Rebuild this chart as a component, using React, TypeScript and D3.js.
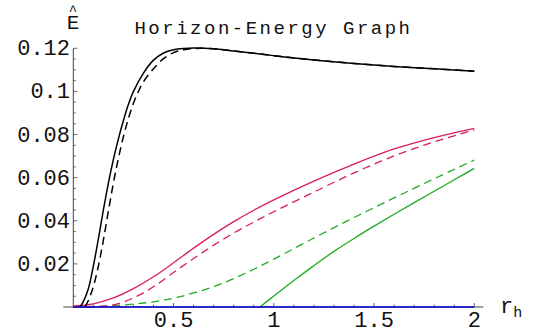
import React, { useEffect, useRef } from 'react';
import * as d3 from 'd3';

// curves (r_h vs E-hat)
const blackSolidR = [0.033, 0.05, 0.075, 0.1, 0.125, 0.15, 0.175, 0.2, 0.225, 0.25, 0.275, 0.3, 0.35, 0.4, 0.45, 0.5, 0.55, 0.6, 0.7, 0.8, 1.0, 1.2, 1.4, 1.6, 1.8, 2.0];
const blackSolidE = [0, 0.0025, 0.0085, 0.019, 0.0315, 0.045, 0.0575, 0.0685, 0.078, 0.0865, 0.094, 0.1, 0.1085, 0.1145, 0.1178, 0.1193, 0.1199, 0.1201, 0.1198, 0.1188, 0.1166, 0.1146, 0.113, 0.1116, 0.1105, 0.1094];

const blackDashR = [0.058, 0.075, 0.1, 0.125, 0.15, 0.175, 0.2, 0.225, 0.25, 0.275, 0.3, 0.325, 0.35, 0.4, 0.45, 0.5, 0.55, 0.6, 0.7, 0.8, 1.0, 1.2, 1.4, 1.6, 1.8, 2.0];
const blackDashE = [0, 0.003, 0.0095, 0.019, 0.031, 0.0445, 0.0575, 0.069, 0.079, 0.0875, 0.0945, 0.1, 0.1045, 0.1105, 0.1152, 0.118, 0.1193, 0.1199, 0.1198, 0.1188, 0.1166, 0.1146, 0.113, 0.1116, 0.1105, 0.1094];

const redSolidR = [0, 0.1, 0.2, 0.3, 0.4, 0.5, 0.6, 0.7, 0.8, 0.9, 1.0, 1.2, 1.4, 1.6, 1.8, 2.0];
const redSolidE = [0.0005, 0.0015, 0.0042, 0.0085, 0.014, 0.0205, 0.0273, 0.0337, 0.0396, 0.0449, 0.0497, 0.0584, 0.0663, 0.0733, 0.0786, 0.0829];

const redDashR = [0, 0.1, 0.2, 0.3, 0.4, 0.5, 0.6, 0.7, 0.8, 0.9, 1.0, 1.2, 1.4, 1.6, 1.8, 2.0];
const redDashE = [0, 0.0002, 0.001, 0.0042, 0.0094, 0.016, 0.0225, 0.0287, 0.0343, 0.0394, 0.0442, 0.0533, 0.0622, 0.0701, 0.0766, 0.0821];

const greenDashR = [0, 0.2, 0.4, 0.5, 0.6, 0.7, 0.8, 0.9, 1.0, 1.2, 1.4, 1.6, 1.8, 2.0];
const greenDashE = [0, 0.0006, 0.0024, 0.0041, 0.0065, 0.0094, 0.0132, 0.0175, 0.0222, 0.032, 0.0415, 0.0506, 0.0595, 0.0682];

const greenSolidR = [0.931, 1.0, 1.1, 1.2, 1.3, 1.4, 1.5, 1.6, 1.7, 1.8, 1.9, 2.0];
const greenSolidE = [0, 0.0051, 0.0123, 0.0192, 0.0258, 0.0318, 0.0375, 0.043, 0.0484, 0.0537, 0.059, 0.0643];

const blueR = [0, 2];
const blueE = [0, 0];

const yTickValues = [0.02, 0.04, 0.06, 0.08, 0.1, 0.12];
const yTickLabels = ['0.02', '0.04', '0.06', '0.08', '0.1', '0.12'];
const xTickValues = [0.5, 1, 1.5, 2];
const xTickLabels = ['0.5', '1', '1.5', '2'];

const titleText = 'Horizon-Energy Graph';

const series = [
  { r: greenSolidR, e: greenSolidE, color: '#1faa1f', dash: null, w: 1.3 },
  { r: greenDashR, e: greenDashE, color: '#1faa1f', dash: '8,5', w: 1.3 },
  { r: redDashR, e: redDashE, color: '#d81f55', dash: '8,5', w: 1.3 },
  { r: redSolidR, e: redSolidE, color: '#d81f55', dash: null, w: 1.3 },
  { r: blackDashR, e: blackDashE, color: '#000000', dash: '8,5', w: 1.5 },
  { r: blackSolidR, e: blackSolidE, color: '#000000', dash: null, w: 1.5 },
  { r: blueR, e: blueE, color: '#0000dd', dash: null, w: 1.5 },
];

function App() {
  const ref = useRef<SVGSVGElement>(null);

  useEffect(() => {
    const svg = d3.select(ref.current);
    svg.selectAll('*').remove();

    const x = d3.scaleLinear().domain([0, 2]).range([73.3, 474.3]);
    const y = d3.scaleLinear().domain([0, 0.12]).range([307, 48.3]);
    const font = '"Courier New", Courier, "Liberation Mono", monospace';
    const axisColor = '#444';

    // x axis
    svg.append('line')
      .attr('x1', x(-0.05)).attr('x2', x(2.045))
      .attr('y1', y(0)).attr('y2', y(0))
      .attr('stroke', axisColor).attr('stroke-width', 1);
    d3.range(1, 21).forEach(i => {
      const v = i / 10;
      const major = i % 5 === 0;
      svg.append('line')
        .attr('x1', x(v)).attr('x2', x(v))
        .attr('y1', y(0)).attr('y2', y(0) - (major ? 4 : 2.5))
        .attr('stroke', axisColor).attr('stroke-width', 0.8);
    });
    xTickValues.forEach((v, i) => {
      svg.append('text')
        .attr('x', x(v)).attr('y', 327)
        .attr('text-anchor', 'middle')
        .attr('font-family', font).attr('font-size', 22)
        .attr('fill', '#111')
        .text(xTickLabels[i]);
    });

    // y axis
    svg.append('line')
      .attr('x1', x(0)).attr('x2', x(0))
      .attr('y1', y(0)).attr('y2', y(0.12))
      .attr('stroke', axisColor).attr('stroke-width', 1);
    d3.range(1, 25).forEach(i => {
      const v = i * 0.005;
      const major = i % 4 === 0;
      svg.append('line')
        .attr('x1', x(0)).attr('x2', x(0) + (major ? 4 : 2.5))
        .attr('y1', y(v)).attr('y2', y(v))
        .attr('stroke', axisColor).attr('stroke-width', 0.8);
    });
    yTickValues.forEach((v, i) => {
      svg.append('text')
        .attr('x', 70).attr('y', y(v))
        .attr('dy', '0.32em')
        .attr('text-anchor', 'end')
        .attr('font-family', font).attr('font-size', 22)
        .attr('fill', '#111')
        .text(yTickLabels[i]);
    });

    // curves
    const line = d3.line<[number, number]>()
      .x(d => x(d[0]))
      .y(d => y(d[1]))
      .curve(d3.curveCatmullRom.alpha(0.5));

    series.forEach(s => {
      const pts = s.r.map((r, i) => [r, s.e[i]] as [number, number]);
      svg.append('path')
        .attr('d', line(pts))
        .attr('fill', 'none')
        .attr('stroke', s.color)
        .attr('stroke-width', s.w)
        .attr('stroke-dasharray', s.dash);
    });

    // title
    svg.append('text')
      .attr('x', 273.5).attr('y', 34)
      .attr('text-anchor', 'middle')
      .attr('font-family', font).attr('font-size', 19)
      .attr('letter-spacing', 2.5)
      .attr('fill', '#111')
      .text(titleText);

    // axis labels: E-hat and r_h
    const el = svg.append('text')
      .attr('text-anchor', 'middle')
      .attr('font-family', font)
      .attr('fill', '#111');
    el.append('tspan').attr('x', 73).attr('y', 15).attr('font-size', 14).text('^');
    el.append('tspan').attr('x', 73).attr('y', 29).attr('font-size', 21).text('E');

    const rl = svg.append('text')
      .attr('x', 500).attr('y', 313)
      .attr('font-family', font).attr('font-size', 22)
      .attr('fill', '#111');
    rl.append('tspan').text('r');
    rl.append('tspan').attr('font-size', 15).attr('dy', 4).text('h');
  }, []);

  return (
    <svg
      ref={ref}
      width={541}
      height={334}
      style={{ position: 'absolute', left: 0, top: 0, background: '#fff' }}
    />
  );
}

export default App;
